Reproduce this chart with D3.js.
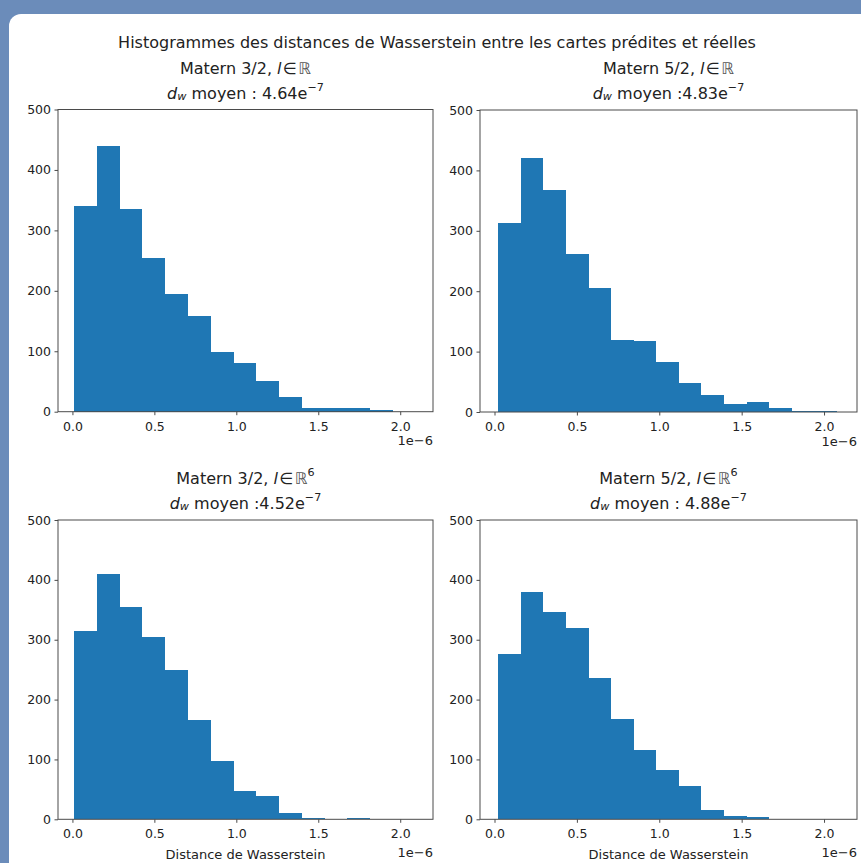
<!DOCTYPE html>
<html><head><meta charset="utf-8">
<script src="https://cdn.jsdelivr.net/npm/d3@7"></script>
<style>
body{margin:0;background:#6b8cba;overflow:hidden;}
svg{display:block;}
text{font-family:"DejaVu Sans",sans-serif;fill:#222;}
</style></head><body>
<svg id="c" width="861" height="863"></svg>
<script>
// ---------- data ----------
const suptitle = "Histogrammes des distances de Wasserstein entre les cartes prédites et réelles";
const panelNames = ["Matern 3/2", "Matern 5/2", "Matern 3/2", "Matern 5/2"];
const spaceExponents = ["", "", "6", "6"];
const meanTexts = [" moyen : 4.64", " moyen :4.83", " moyen :4.52", " moyen : 4.88"];
const meanExponents = ["−7", "−7", "−7", "−7"];
const binStarts = [0.010, 0.023, 0.010, 0.023];
const binWidths = [0.139, 0.137, 0.139, 0.137];
const countsMatern32R  = [341, 440, 336, 255, 194, 159, 99, 80, 51, 24, 6, 6, 6, 3];
const countsMatern52R  = [313, 421, 368, 261, 205, 119, 117, 82, 48, 28, 14, 17, 6, 2, 2];
const countsMatern32R6 = [315, 410, 354, 305, 250, 166, 97, 48, 39, 10, 2, 0, 2];
const countsMatern52R6 = [276, 379, 346, 320, 236, 167, 115, 82, 55, 16, 6, 4];
const allCounts = [countsMatern32R, countsMatern52R, countsMatern32R6, countsMatern52R6];
const xTicks = [0, 0.5, 1.0, 1.5, 2.0];
const xTickLabels = ["0.0", "0.5", "1.0", "1.5", "2.0"];
const yTicks = [0, 100, 200, 300, 400, 500];
const xDomain = [-0.088, 2.2];
const yDomain = [0, 500];
const offsetLabel = "1e−6";
const xLabel = "Distance de Wasserstein";
const showXLabel = [false, false, true, true];

// ---------- layout ----------
const boxes = [
  {l: 58, r: 433, t: 109.5, b: 411.7},
  {l: 480, r: 857, t: 110, b: 412},
  {l: 58, r: 433, t: 520, b: 819.3},
  {l: 480, r: 857, t: 520, b: 819.3}
];
const barColor = "#1f77b4";
const axisColor = "#4a4a4a";
const tickFont = 12.5, titleFont = 16, labelFont = 13;

const svg = d3.select("#c");
svg.append("rect").attr("x", 9).attr("y", 14).attr("width", 900).attr("height", 900)
  .attr("rx", 12).attr("fill", "#ffffff");

svg.append("text").attr("x", 437).attr("y", 42).attr("text-anchor", "middle")
  .attr("dominant-baseline", "central").attr("font-size", titleFont).text(suptitle);

boxes.forEach((bx, k) => {
  const x = d3.scaleLinear().domain(xDomain).range([bx.l, bx.r]);
  const y = d3.scaleLinear().domain(yDomain).range([bx.b, bx.t]);
  const g = svg.append("g");
  const counts = allCounts[k];
  const s = binStarts[k], w = binWidths[k];

  g.selectAll("rect.bar").data(counts).join("rect").attr("class", "bar")
    .attr("x", (d, i) => x(s + i * w))
    .attr("width", (d, i) => x(s + (i + 1) * w) - x(s + i * w))
    .attr("y", d => y(d))
    .attr("height", d => y(0) - y(d))
    .attr("fill", barColor)
    .attr("shape-rendering", "crispEdges");

  // spines
  g.append("rect").attr("x", bx.l).attr("y", bx.t).attr("width", bx.r - bx.l).attr("height", bx.b - bx.t)
    .attr("fill", "none").attr("stroke", axisColor).attr("stroke-width", 1);

  const xa = g.append("g").attr("transform", `translate(0,${bx.b})`)
    .call(d3.axisBottom(x).tickValues(xTicks).tickFormat((d, i) => xTickLabels[i]).tickSize(3.5).tickPadding(6.5));
  const ya = g.append("g").attr("transform", `translate(${bx.l},0)`)
    .call(d3.axisLeft(y).tickValues(yTicks).tickFormat(d3.format("d")).tickSize(3.5).tickPadding(3.5));
  [xa, ya].forEach(a => {
    a.select(".domain").remove();
    a.selectAll("line").attr("stroke", axisColor);
    a.selectAll("text").attr("font-size", tickFont).attr("fill", "#222")
      .style("font-family", '"DejaVu Sans",sans-serif');
  });

  // offset label
  g.append("text").attr("x", bx.r).attr("y", bx.b + (showXLabel[k] ? 33 : 29)).attr("text-anchor", "end")
    .attr("dominant-baseline", "central").attr("font-size", labelFont).text(offsetLabel);

  if (showXLabel[k]) {
    g.append("text").attr("x", (bx.l + bx.r) / 2).attr("y", bx.b + 35).attr("text-anchor", "middle")
      .attr("dominant-baseline", "central").attr("font-size", labelFont).text(xLabel);
  }

  const cx = (bx.l + bx.r) / 2;
  // title line 1
  const t1 = g.append("text").attr("x", cx).attr("y", bx.t - 42).attr("text-anchor", "middle")
    .attr("dominant-baseline", "central").attr("font-size", titleFont);
  t1.append("tspan").text(panelNames[k] + ", ");
  t1.append("tspan").attr("font-style", "italic").text("l");
  t1.append("tspan").attr("dx", 1.5).text("∈");
  t1.append("tspan").attr("dx", 1.5).attr("fill", "#555").text("ℝ");
  if (spaceExponents[k]) {
    t1.append("tspan").attr("font-size", titleFont * 0.7).attr("dy", -6).text(spaceExponents[k]);
  }
  // title line 2
  const t2 = g.append("text").attr("x", cx).attr("y", bx.t - 17).attr("text-anchor", "middle")
    .attr("dominant-baseline", "central").attr("font-size", titleFont);
  t2.append("tspan").attr("font-style", "italic").text("d");
  t2.append("tspan").attr("font-style", "italic").attr("font-size", titleFont * 0.7).attr("dy", 3).text("w");
  t2.append("tspan").attr("dy", -3).text(meanTexts[k]);
  t2.append("tspan").text("e");
  t2.append("tspan").attr("font-size", titleFont * 0.7).attr("dy", -6).text(meanExponents[k]);
});
</script>
</body></html>
